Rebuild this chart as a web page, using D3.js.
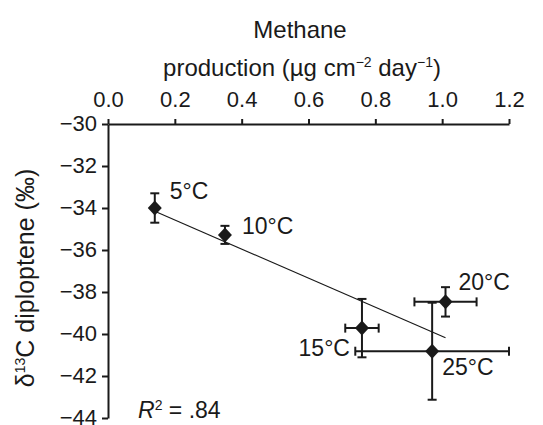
<!DOCTYPE html>
<html>
<head>
<meta charset="utf-8">
<script src="https://cdn.jsdelivr.net/npm/d3@7"></script>
<style>
  body { margin: 0; background: #fff; }
  svg { display: block; font-family: "Liberation Sans", Arial, Helvetica, sans-serif; }
</style>
</head>
<body>
<div id="chart"></div>
<script>
// data
var temps      = ["5°C", "10°C", "15°C", "20°C", "25°C"];
var methane    = [0.14, 0.35, 0.76, 1.01, 0.97];     // ug cm-2 day-1
var methaneErr = [0, 0, 0.05, 0.093, 0.23];
var delta      = [-34.0, -35.28, -39.72, -38.47, -40.82]; // permil
var deltaErr   = [0.7, 0.43, 1.39, 0.7, 2.31];
var xTicks     = [0, 0.2, 0.4, 0.6, 0.8, 1.0, 1.2];
var yTicks     = [-30, -32, -34, -36, -38, -40, -42, -44];

// label offsets from the diamond (style only)
var labelPos = [
    {dx: 15, dy: -9, anchor: "start"},
    {dx: 17, dy: -1, anchor: "start"},
    {dx: -12, dy: 28, anchor: "end"},
    {dx: 13, dy: -12, anchor: "start"},
    {dx: 10, dy: 24, anchor: "start"}
];

var W = 543, H = 425;
var fsTick = 22, fsTitle = 24, fsYTitle = 25, fsLab = 23, fsSup = 14;
var ink = "#1a1a1a";

var svg = d3.select("#chart").append("svg")
    .attr("width", W)
    .attr("height", H);

var x = d3.scaleLinear().domain([0, 1.2]).range([108, 509]);
var y = d3.scaleLinear().domain([-30, -44]).range([124, 418]);

var pts = temps.map(function(t, i) {
    return {t: t, x: methane[i], xe: methaneErr[i], y: delta[i], ye: deltaErr[i], lp: labelPos[i]};
});

//Top axis
var gx = svg.append("g")
    .attr("transform", "translate(0," + y(-30) + ")")
    .call(d3.axisTop(x).tickValues(xTicks).tickSize(5).tickSizeOuter(0).tickPadding(12)
        .tickFormat(d3.format(".1f")));

//Left axis
var gy = svg.append("g")
    .attr("transform", "translate(" + x(0) + ",0)")
    .call(d3.axisLeft(y).tickValues(yTicks).tickSize(6).tickSizeOuter(0).tickPadding(5));

[gx, gy].forEach(function(g) {
    g.selectAll("path, line").attr("stroke", ink).attr("stroke-width", 2);
    g.selectAll("text").attr("fill", ink).style("font-size", fsTick + "px")
        .style("font-family", "'Liberation Sans', Arial, sans-serif");
});
gy.selectAll("text").attr("dy", "0.3em");

//Axis titles
svg.append("text")
    .attr("x", 300).attr("y", 38)
    .attr("text-anchor", "middle")
    .attr("fill", ink)
    .style("font-size", fsTitle + "px")
    .text("Methane");

var t2 = svg.append("text")
    .attr("x", 302).attr("y", 76)
    .attr("text-anchor", "middle")
    .attr("fill", ink)
    .style("font-size", fsTitle + "px");
t2.append("tspan").text("production (µg cm");
t2.append("tspan").attr("dy", -9).style("font-size", fsSup + "px").text("−2");
t2.append("tspan").attr("dy", 9).text(" day");
t2.append("tspan").attr("dy", -9).style("font-size", fsSup + "px").text("−1");
t2.append("tspan").attr("dy", 9).text(")");

var yl = svg.append("text")
    .attr("transform", "translate(34,278) rotate(-90)")
    .attr("text-anchor", "middle")
    .attr("fill", ink)
    .style("font-size", fsYTitle + "px");
yl.append("tspan").text("δ");
yl.append("tspan").attr("dy", -9).style("font-size", fsSup + "px").text("13");
yl.append("tspan").attr("dy", 9).text("C diploptene (‰)");

//Regression line, least squares over the points
var mx = d3.mean(methane), my = d3.mean(delta);
var sxy = d3.sum(methane, function(v, i) { return (v - mx) * (delta[i] - my); });
var sxx = d3.sum(methane, function(v) { return (v - mx) * (v - mx); });
var syy = d3.sum(delta, function(v) { return (v - my) * (v - my); });
var slope = sxy / sxx, icpt = my - slope * mx;
var r2 = sxy * sxy / (sxx * syy);
var ext = d3.extent(methane);

svg.append("line")
    .attr("x1", x(ext[0])).attr("y1", y(icpt + slope * ext[0]))
    .attr("x2", x(ext[1])).attr("y2", y(icpt + slope * ext[1]))
    .attr("stroke", ink)
    .attr("stroke-width", 1.2);

//Error bars
var cap = 4.5;
var eb = svg.append("g").attr("stroke", ink).attr("stroke-width", 2).attr("fill", "none");
pts.forEach(function(d) {
    var px = x(d.x), py = y(d.y);
    var y1 = y(d.y + d.ye), y2 = y(d.y - d.ye);
    eb.append("line").attr("x1", px).attr("x2", px).attr("y1", y1).attr("y2", y2);
    eb.append("line").attr("x1", px - cap).attr("x2", px + cap).attr("y1", y1).attr("y2", y1);
    eb.append("line").attr("x1", px - cap).attr("x2", px + cap).attr("y1", y2).attr("y2", y2);
    if (d.xe > 0) {
        var x1 = x(d.x - d.xe), x2 = x(d.x + d.xe);
        eb.append("line").attr("x1", x1).attr("x2", x2).attr("y1", py).attr("y2", py);
        eb.append("line").attr("x1", x1).attr("x2", x1).attr("y1", py - cap).attr("y2", py + cap);
        eb.append("line").attr("x1", x2).attr("x2", x2).attr("y1", py - cap).attr("y2", py + cap);
    }
});

//Diamonds
svg.append("g").selectAll("path")
    .data(pts)
    .join("path")
    .attr("d", "M0,-7.5L7,0L0,7.5L-7,0Z")
    .attr("transform", function(d) { return "translate(" + x(d.x) + "," + y(d.y) + ")"; })
    .attr("fill", ink);

//Point labels
svg.append("g").selectAll("text")
    .data(pts)
    .join("text")
    .attr("x", function(d) { return x(d.x) + d.lp.dx; })
    .attr("y", function(d) { return y(d.y) + d.lp.dy; })
    .attr("text-anchor", function(d) { return d.lp.anchor; })
    .style("font-size", fsLab + "px")
    .attr("fill", ink)
    .text(function(d) { return d.t; });

//R squared
var rt = svg.append("text")
    .attr("x", 138).attr("y", 418)
    .style("font-size", fsLab + "px")
    .attr("fill", ink);
rt.append("tspan").style("font-style", "italic").text("R");
rt.append("tspan").attr("dy", -8).style("font-size", fsSup + "px").text("2");
rt.append("tspan").attr("dy", 8).text(" = " + d3.format(".2f")(r2).replace(/^0/, ""));
</script>
</body>
</html>
